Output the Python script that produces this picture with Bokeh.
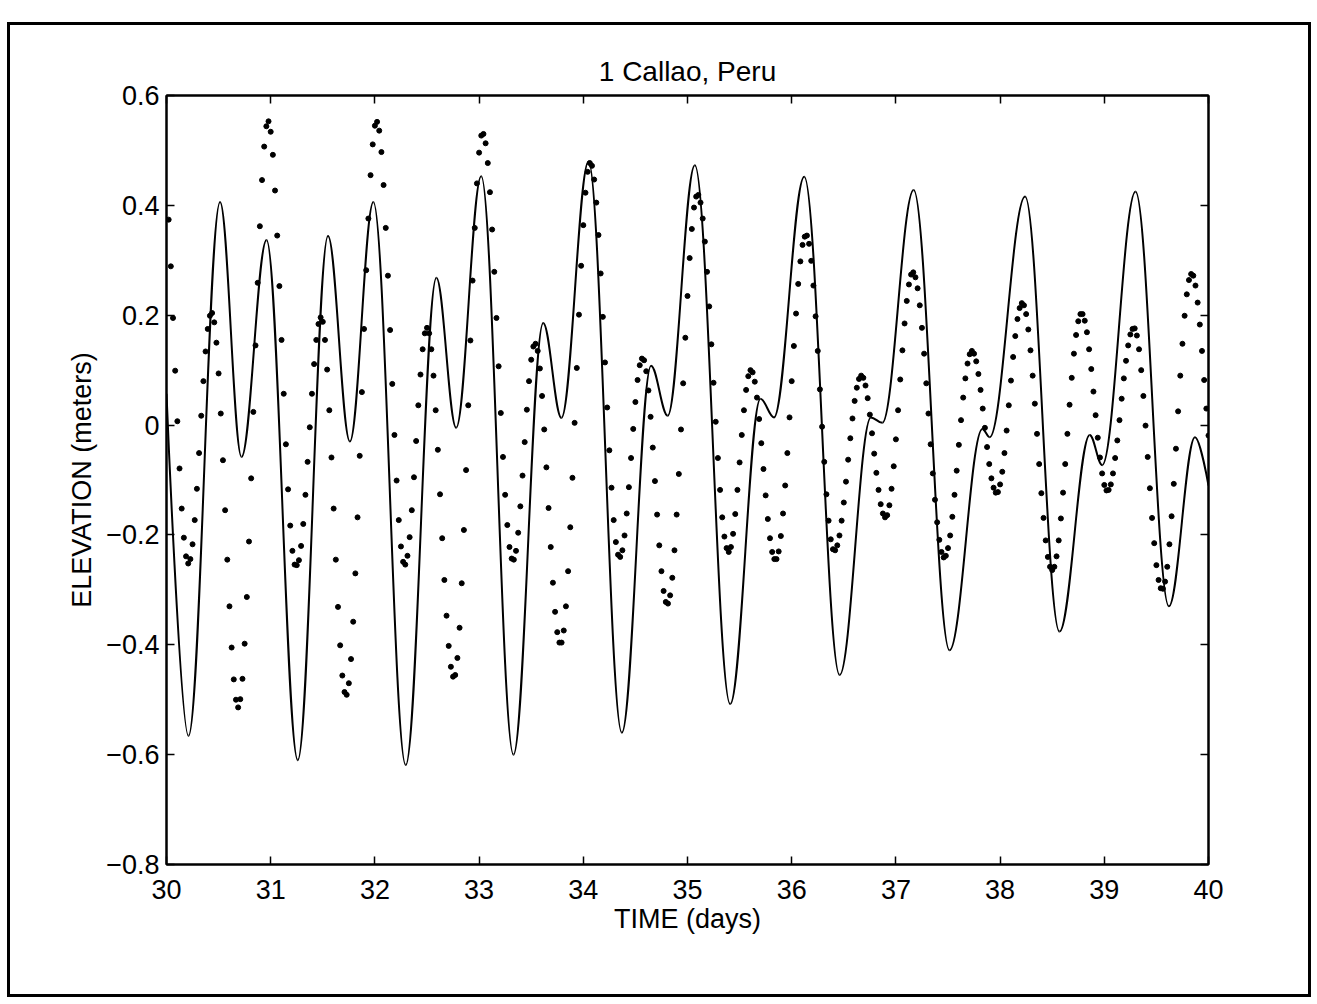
import numpy as np
from bokeh.plotting import figure
from bokeh.models import FixedTicker, LinearAxis, Range1d
from bokeh.embed import file_html
from bokeh.resources import INLINE

# ---------------- data ----------------
# Model elevation (solid curve): successive turning points, time in days, elevation in metres
model_t = [30.0, 30.211, 30.514, 30.72, 30.96, 31.26, 31.55, 31.76, 31.985, 32.296,
           32.59, 32.78, 33.02, 33.33, 33.615, 33.79, 34.05, 34.37, 34.65, 34.81,
           35.07, 35.41, 35.70, 35.83, 36.12, 36.46, 36.76, 36.87, 37.17, 37.515,
           37.83, 37.90, 38.24, 38.57, 38.86, 38.98, 39.30, 39.62, 39.87, 40.0]
model_v = [0.057, -0.566, 0.406, -0.058, 0.337, -0.610, 0.344, -0.030, 0.406, -0.619,
           0.268, -0.005, 0.453, -0.600, 0.186, 0.013, 0.480, -0.560, 0.108, 0.017,
           0.473, -0.508, 0.048, 0.014, 0.452, -0.455, 0.014, 0.004, 0.428, -0.410,
           -0.007, -0.022, 0.416, -0.376, -0.018, -0.073, 0.425, -0.330, -0.022, -0.110]

# Observed elevation (dots): half-hourly samples starting half an hour after day 30
obs_first_day = 30 + 1 / 48
obs_step_day = 1 / 48
obs_v = [
    0.374, 0.289, 0.195, 0.099, 0.007, -0.079, -0.152, -0.205, -0.239, -0.252, -0.244, -0.217,
    -0.173, -0.116, -0.051, 0.017, 0.080, 0.134, 0.175, 0.199, 0.204, 0.187, 0.150, 0.094,
    0.021, -0.064, -0.155, -0.245, -0.330, -0.405, -0.463, -0.500, -0.514, -0.499, -0.462, -0.398,
    -0.313, -0.212, -0.097, 0.024, 0.145, 0.259, 0.362, 0.446, 0.507, 0.544, 0.553, 0.534,
    0.492, 0.427, 0.345, 0.253, 0.155, 0.057, -0.035, -0.117, -0.183, -0.229, -0.254, -0.255,
    -0.246, -0.220, -0.180, -0.127, -0.067, -0.004, 0.057, 0.111, 0.155, 0.184, 0.196, 0.188,
    0.155, 0.101, 0.027, -0.059, -0.152, -0.245, -0.331, -0.401, -0.456, -0.486, -0.491, -0.470,
    -0.426, -0.358, -0.270, -0.168, -0.056, 0.060, 0.175, 0.282, 0.376, 0.455, 0.511, 0.545,
    0.552, 0.536, 0.497, 0.437, 0.359, 0.272, 0.173, 0.075, -0.018, -0.101, -0.173, -0.221,
    -0.249, -0.254, -0.238, -0.204, -0.155, -0.095, -0.029, 0.036, 0.092, 0.138, 0.167, 0.177,
    0.167, 0.138, 0.090, 0.027, -0.045, -0.126, -0.206, -0.282, -0.347, -0.402, -0.440, -0.458,
    -0.455, -0.424, -0.369, -0.288, -0.191, -0.082, 0.036, 0.154, 0.263, 0.359, 0.440, 0.496,
    0.527, 0.530, 0.513, 0.477, 0.424, 0.356, 0.279, 0.195, 0.107, 0.022, -0.058, -0.127,
    -0.182, -0.222, -0.243, -0.245, -0.229, -0.196, -0.148, -0.092, -0.031, 0.028, 0.080, 0.119,
    0.143, 0.148, 0.135, 0.103, 0.053, -0.008, -0.077, -0.151, -0.222, -0.287, -0.340, -0.377,
    -0.396, -0.396, -0.374, -0.330, -0.266, -0.186, -0.096, 0.004, 0.104, 0.201, 0.290, 0.364,
    0.423, 0.461, 0.477, 0.472, 0.447, 0.405, 0.346, 0.276, 0.197, 0.114, 0.032, -0.046,
    -0.114, -0.173, -0.213, -0.236, -0.240, -0.228, -0.201, -0.161, -0.113, -0.060, -0.007, 0.042,
    0.082, 0.109, 0.121, 0.118, 0.098, 0.063, 0.015, -0.041, -0.102, -0.163, -0.219, -0.266,
    -0.302, -0.322, -0.325, -0.310, -0.278, -0.228, -0.163, -0.089, -0.008, 0.076, 0.159, 0.235,
    0.304, 0.357, 0.396, 0.416, 0.419, 0.405, 0.376, 0.334, 0.279, 0.216, 0.147, 0.077,
    0.006, -0.060, -0.118, -0.168, -0.203, -0.224, -0.231, -0.222, -0.198, -0.162, -0.118, -0.068,
    -0.018, 0.027, 0.064, 0.089, 0.100, 0.096, 0.079, 0.050, 0.011, -0.033, -0.080, -0.128,
    -0.171, -0.206, -0.231, -0.244, -0.244, -0.230, -0.202, -0.161, -0.110, -0.051, 0.014, 0.080,
    0.144, 0.203, 0.257, 0.298, 0.328, 0.343, 0.345, 0.330, 0.299, 0.254, 0.198, 0.135,
    0.065, -0.003, -0.067, -0.126, -0.174, -0.208, -0.226, -0.228, -0.219, -0.201, -0.174, -0.141,
    -0.103, -0.063, -0.024, 0.012, 0.044, 0.068, 0.084, 0.090, 0.086, 0.072, 0.049, 0.019,
    -0.015, -0.052, -0.087, -0.118, -0.144, -0.161, -0.168, -0.164, -0.146, -0.116, -0.075, -0.026,
    0.027, 0.083, 0.136, 0.185, 0.226, 0.256, 0.274, 0.278, 0.269, 0.249, 0.218, 0.177,
    0.130, 0.076, 0.021, -0.035, -0.088, -0.136, -0.177, -0.209, -0.231, -0.241, -0.238, -0.224,
    -0.201, -0.167, -0.127, -0.083, -0.036, 0.009, 0.050, 0.085, 0.112, 0.129, 0.135, 0.130,
    0.116, 0.093, 0.064, 0.030, -0.005, -0.040, -0.071, -0.097, -0.114, -0.123, -0.122, -0.108,
    -0.085, -0.051, -0.010, 0.036, 0.081, 0.124, 0.162, 0.193, 0.213, 0.222, 0.218, 0.202,
    0.174, 0.136, 0.090, 0.039, -0.016, -0.071, -0.124, -0.169, -0.210, -0.240, -0.258, -0.264,
    -0.258, -0.239, -0.210, -0.170, -0.123, -0.071, -0.016, 0.037, 0.086, 0.130, 0.164, 0.189,
    0.202, 0.202, 0.190, 0.169, 0.138, 0.102, 0.061, 0.018, -0.023, -0.059, -0.088, -0.109,
    -0.119, -0.118, -0.108, -0.088, -0.060, -0.028, 0.009, 0.048, 0.085, 0.117, 0.145, 0.165,
    0.175, 0.176, 0.163, 0.138, 0.100, 0.053, -0.001, -0.058, -0.115, -0.169, -0.215, -0.255,
    -0.282, -0.297, -0.298, -0.285, -0.258, -0.217, -0.166, -0.107, -0.043, 0.025, 0.090, 0.148,
    0.199, 0.238, 0.264, 0.275, 0.272, 0.254, 0.223, 0.183, 0.135, 0.082, 0.030, -0.019,
]

x_ticks = [30, 31, 32, 33, 34, 35, 36, 37, 38, 39, 40]
y_ticks = [-0.8, -0.6, -0.4, -0.2, 0.0, 0.2, 0.4, 0.6]
y_tick_labels = ["\u22120.8", "\u22120.6", "\u22120.4", "\u22120.2", "0", "0.2", "0.4", "0.6"]

title_text = "1 Callao, Peru"
x_label = "TIME (days)"
y_label = "ELEVATION (meters)"

# ---------------- figure ----------------
FONT = "Liberation Sans"
p = figure(width=1304, height=975, output_backend="svg", toolbar_location=None,
           x_range=Range1d(30, 40), y_range=Range1d(-0.8, 0.6),
           min_border_left=156, min_border_right=106, min_border_top=70, min_border_bottom=136,
           margin=(22, 0, 0, 7),
           styles={"border": "3px solid black"})
p.background_fill_color = "white"
p.border_fill_color = "white"
p.outline_line_color = "black"
p.outline_line_width = 2
p.grid.visible = False

p.title.text = title_text
p.title.align = "center"
p.title.text_font = FONT
p.title.text_font_size = "28px"
p.title.text_font_style = "normal"
p.title.text_color = "black"
p.title.standoff = 17

obs_t = obs_first_day + obs_step_day * np.arange(len(obs_v))

# model curve: smooth arcs between turning points (horizontal tangents at turning points)
mt = np.array(model_t)
mv = np.array(model_v)
K = 0.36
x0, x1 = mt[:-1], mt[1:]
y0, y1 = mv[:-1], mv[1:]
dx = x1 - x0
cx0 = x0 + K * dx
cy0 = y0.copy()
cx1 = x1 - K * dx
cy1 = y1.copy()
# the curve enters and leaves the window mid-slope
cx0[0], cy0[0] = x0[0], y0[0]
cx1[-1], cy1[-1] = x1[-1], y1[-1]
p.bezier(x0=x0, y0=y0, x1=x1, y1=y1, cx0=cx0, cy0=cy0, cx1=cx1, cy1=cy1,
         line_color="black", line_width=2)

p.scatter(obs_t, obs_v, size=5, marker="circle", fill_color="black", line_color="black")

# axes
def style_axis(ax, labels=True):
    ax.axis_line_color = "black"
    ax.axis_line_width = 2
    ax.major_tick_in = 8
    ax.major_tick_out = 0
    ax.major_tick_line_width = 1.5
    ax.minor_tick_line_color = None
    ax.major_label_text_font = FONT
    ax.major_label_text_font_size = "27px" if labels else "1px"
    ax.major_label_text_color = "black" if labels else None
    ax.axis_label_text_font = FONT
    ax.axis_label_text_font_size = "27px"
    ax.axis_label_text_font_style = "normal"
    ax.axis_label_text_color = "black"

xt = FixedTicker(ticks=x_ticks)
yt = FixedTicker(ticks=y_ticks)
p.xaxis.ticker = xt
p.yaxis.ticker = yt
for ax in p.xaxis:
    style_axis(ax)
    ax.axis_label = x_label
    ax.major_label_standoff = 15
    ax.axis_label_standoff = 2
for ax in p.yaxis:
    style_axis(ax)
    ax.axis_label = y_label
    ax.major_label_standoff = 7
    ax.axis_label_standoff = 6
    ax.major_label_overrides = dict(zip(y_ticks, y_tick_labels))

top = LinearAxis(ticker=xt)
style_axis(top, labels=False)
top.major_label_standoff = 0
p.add_layout(top, "above")
right = LinearAxis(ticker=yt)
style_axis(right, labels=False)
right.major_label_standoff = 0
p.add_layout(right, "right")

open("out.html", "w").write(file_html(p, INLINE))
